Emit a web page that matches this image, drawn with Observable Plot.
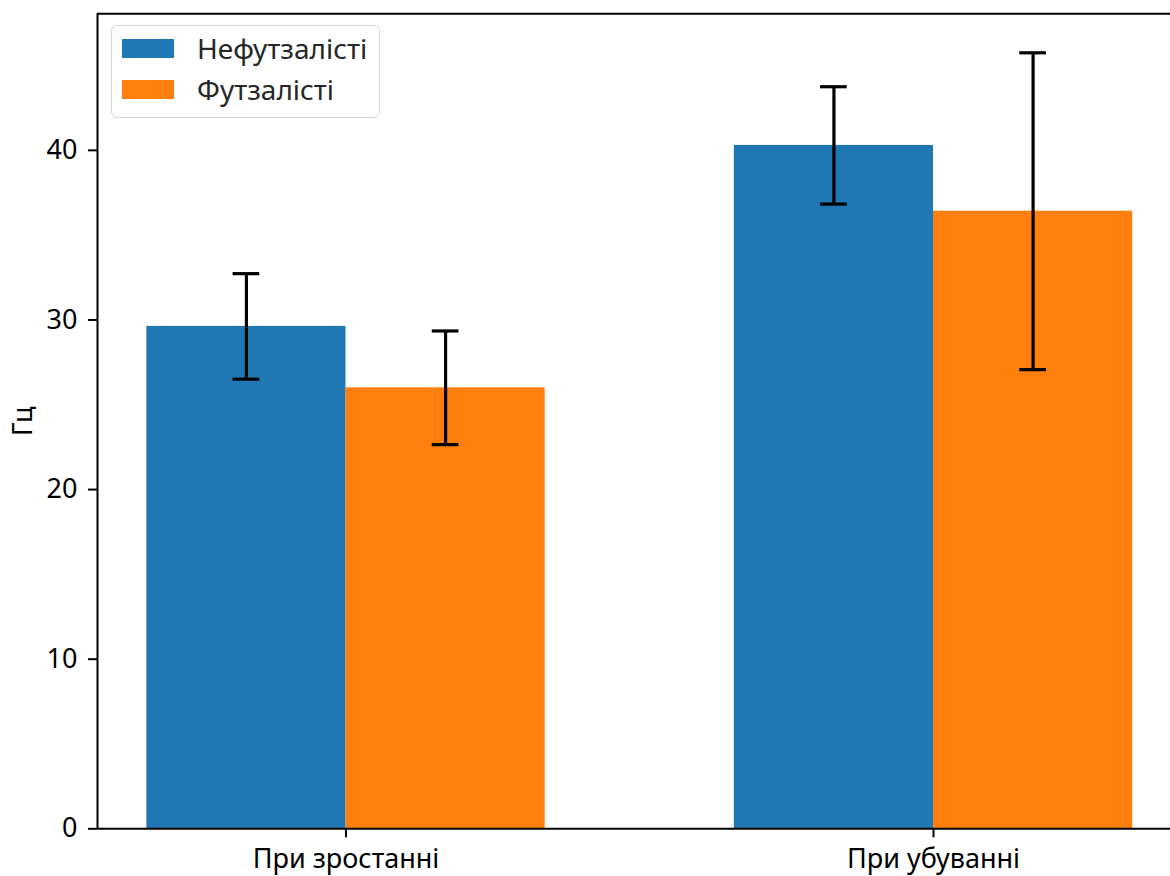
<!DOCTYPE html>
<html>
<head>
<meta charset="utf-8">
<script src="https://cdn.jsdelivr.net/npm/d3@7"></script>
<script src="https://cdn.jsdelivr.net/npm/@observablehq/plot@0.6"></script>
<style>
  html, body { margin: 0; padding: 0; background: #fff; overflow: hidden; }
  #wrap { position: relative; width: 1170px; height: 876px; font-family: "Noto Sans", sans-serif; }
  #legend {
    position: absolute; left: 111px; top: 25px; width: 269px; height: 93px;
    border: 1.5px solid #d6d6d6; border-radius: 6px; background: rgba(255,255,255,0.8);
    box-sizing: border-box; font-size: 28px; line-height: 30px; color: #262626;
  }
  .item { position: absolute; left: 10px; display: flex; align-items: center; }
  .sw { width: 52px; height: 19px; margin-right: 23px; }
</style>
</head>
<body>
<div id="wrap"></div>
<script>
// Data
const categories = ["При зростанні", "При убуванні"];
const seriesNames = ["Нефутзалісті", "Футзалісті"];
const nonFutsal = [29.62, 40.29];
const nonFutsalErr = [3.11, 3.46];
const futsal = [26.0, 36.41];
const futsalErr = [3.35, 9.34];
const yTicks = [0, 10, 20, 30, 40];
const colors = ["#1f77b4", "#ff7f0e"];

const barWidth = 0.339;
const capHalf = 0.0227;

const rows = [];
categories.forEach((c, gi) => {
  [[nonFutsal, nonFutsalErr], [futsal, futsalErr]].forEach(([vals, errs], si) => {
    rows.push({
      group: gi, series: seriesNames[si], value: vals[gi], err: errs[gi],
      x1: gi + (si - 1) * barWidth, x2: gi + si * barWidth,
      cx: gi + (si - 0.5) * barWidth
    });
  });
});

const yMax = 48.05;
const xMin = -0.423, xMax = 1.4034;

const chart = Plot.plot({
  width: 1170,
  height: 876,
  marginLeft: 97,
  marginRight: 0,
  marginTop: 13.3,
  marginBottom: 47.7,
  style: { fontFamily: "Noto Sans, sans-serif", fontSize: "27px", color: "#000", background: "#fff" },
  x: { domain: [xMin, xMax] },
  y: { domain: [0, yMax] },
  color: { domain: seriesNames, range: colors },
  marks: [
    Plot.rectY(rows, { x1: "x1", x2: "x2", y1: 0, y2: "value", fill: "series", inset: 0 }),
    Plot.ruleX(rows, { x: "cx", y1: d => d.value - d.err, y2: d => d.value + d.err, stroke: "#000", strokeWidth: 3.2 }),
    Plot.ruleY(rows, { y: d => d.value + d.err, x1: d => d.cx - capHalf, x2: d => d.cx + capHalf, stroke: "#000", strokeWidth: 3.2 }),
    Plot.ruleY(rows, { y: d => d.value - d.err, x1: d => d.cx - capHalf, x2: d => d.cx + capHalf, stroke: "#000", strokeWidth: 3.2 }),
    Plot.axisY({ ticks: yTicks, tickSize: 9, tickPadding: 11, tickFormat: d => String(d), label: "Гц", labelAnchor: "center", labelArrow: "none", labelOffset: 85, strokeWidth: 2 }),
    Plot.axisX({ ticks: [0, 1], tickSize: 9, tickPadding: 11, tickFormat: i => categories[i], label: null, strokeWidth: 2 }),
    Plot.ruleX([xMin], { stroke: "#000", strokeWidth: 2 }),
    Plot.ruleY([0], { stroke: "#000", strokeWidth: 2 }),
    Plot.ruleY([yMax], { stroke: "#000", strokeWidth: 2 })
  ]
});

const wrap = document.getElementById("wrap");
wrap.appendChild(chart);

const legend = document.createElement("div");
legend.id = "legend";
seriesNames.forEach((name, i) => {
  const item = document.createElement("div");
  item.className = "item";
  item.style.top = (i === 0 ? 7 : 48) + "px";
  const sw = document.createElement("div");
  sw.className = "sw";
  sw.style.background = colors[i];
  const label = document.createElement("span");
  label.textContent = name;
  item.appendChild(sw);
  item.appendChild(label);
  legend.appendChild(item);
});
wrap.appendChild(legend);
</script>
</body>
</html>
